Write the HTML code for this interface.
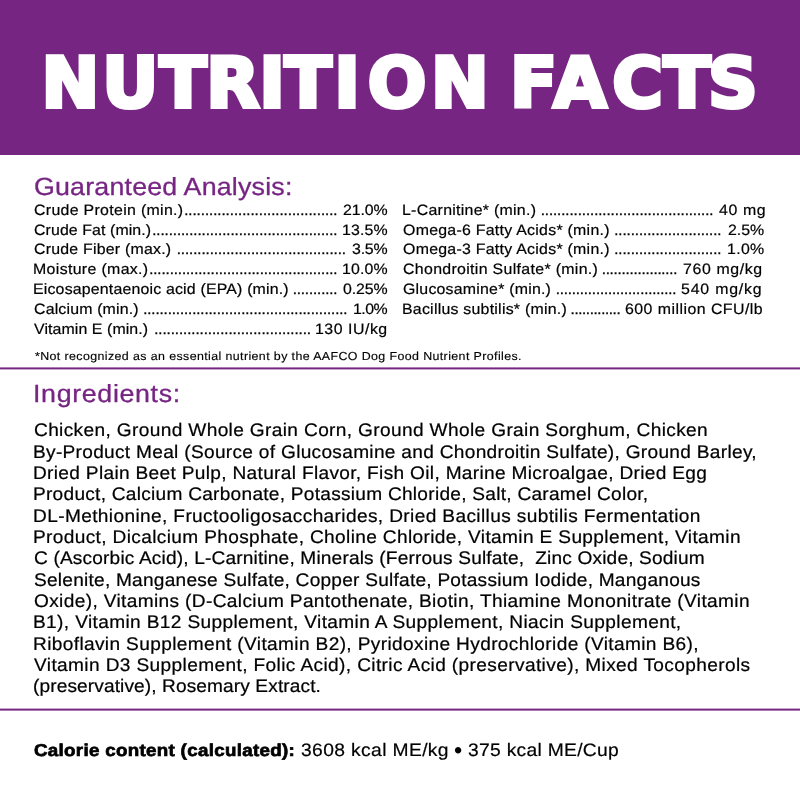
<!DOCTYPE html>
<html lang="en"><head><meta charset="utf-8"><title>Nutrition Facts</title>
<style>
html,body{margin:0;padding:0;background:#fff;}
body{width:800px;height:800px;position:relative;overflow:hidden;font-family:"Liberation Sans",sans-serif;}
.banner{position:absolute;left:0;top:0;width:800px;height:155px;background:#772583;}
.hr{position:absolute;left:0;width:800px;height:3px;}
.t{position:absolute;white-space:pre;line-height:40px;margin:0;transform-origin:0 0;text-rendering:geometricPrecision;}
</style></head><body>
<div class="banner"></div>

<div class="hr" style="top:367px;background:linear-gradient(to bottom,#ad7cb5 0 1px,#772583 1px 2px,#c9a8cd 2px 3px)"></div>
<div class="hr" style="top:708px;background:linear-gradient(to bottom,#c9a8cd 0 1px,#772583 1px 2px,#ad7cb5 2px 3px)"></div>
<svg class="title" width="800" height="154" viewBox="0 0 800 154" style="position:absolute;left:0;top:0"><text x="41.4 102.2 159.5 206.3 259.3 284.5 334.3 367.7 431.1 495.0 509.9 553.2 612.2 663.5 708.0" y="106.6" font-family='"DejaVu Sans", sans-serif' font-weight="700" font-size="69.0" fill="#fff" stroke="#fff" stroke-width="4.0" stroke-linejoin="miter" stroke-miterlimit="8">NUTRITION FACTS</text></svg>
<div class="t" style="left:34.08px;top:168px;font-size:24.8px;letter-spacing:0.183px;color:#772583;-webkit-text-stroke:0.3px #772583;transform:scaleX(1.08);">Guaranteed Analysis:</div>
<div class="t" style="left:32.70px;top:375px;font-size:24.8px;letter-spacing:0.609px;color:#772583;-webkit-text-stroke:0.3px #772583;transform:scaleX(1.08);">Ingredients:</div>
<div class="t" style="left:34.31px;top:191px;font-size:15.0px;letter-spacing:0.295px;-webkit-text-stroke:0.2px #000;transform:scaleX(1.06);">Crude Protein (min.)</div>
<div class="t" style="left:184.18px;top:191px;font-size:15.0px;letter-spacing:-0.024px;-webkit-text-stroke:0.35px #000;">.....................................</div>
<div class="t" style="left:342.61px;top:191px;font-size:15.0px;letter-spacing:-0.103px;-webkit-text-stroke:0.2px #000;transform:scaleX(1.06);">21.0%</div>
<div class="t" style="left:34.31px;top:211px;font-size:15.0px;letter-spacing:0.084px;-webkit-text-stroke:0.2px #000;transform:scaleX(1.06);">Crude Fat (min.)</div>
<div class="t" style="left:152.18px;top:211px;font-size:15.0px;letter-spacing:-0.050px;-webkit-text-stroke:0.35px #000;">.............................................</div>
<div class="t" style="left:341.55px;top:211px;font-size:15.0px;letter-spacing:0.147px;-webkit-text-stroke:0.2px #000;transform:scaleX(1.06);">13.5%</div>
<div class="t" style="left:34.31px;top:230px;font-size:15.0px;letter-spacing:0.204px;-webkit-text-stroke:0.2px #000;transform:scaleX(1.06);">Crude Fiber (max.)</div>
<div class="t" style="left:176.68px;top:230px;font-size:15.0px;letter-spacing:-0.039px;-webkit-text-stroke:0.35px #000;">.........................................</div>
<div class="t" style="left:351.61px;top:230px;font-size:15.0px;letter-spacing:-0.187px;-webkit-text-stroke:0.2px #000;transform:scaleX(1.06);">3.5%</div>
<div class="t" style="left:33.25px;top:250px;font-size:15.0px;letter-spacing:0.318px;-webkit-text-stroke:0.2px #000;transform:scaleX(1.06);">Moisture (max.)</div>
<div class="t" style="left:149.18px;top:250px;font-size:15.0px;letter-spacing:-0.075px;-webkit-text-stroke:0.35px #000;">..............................................</div>
<div class="t" style="left:341.55px;top:250px;font-size:15.0px;letter-spacing:0.147px;-webkit-text-stroke:0.2px #000;transform:scaleX(1.06);">10.0%</div>
<div class="t" style="left:33.25px;top:270px;font-size:15.0px;letter-spacing:0.167px;-webkit-text-stroke:0.2px #000;transform:scaleX(1.06);">Eicosapentaenoic acid (EPA) (min.)</div>
<div class="t" style="left:292.68px;top:270px;font-size:15.0px;letter-spacing:-0.102px;-webkit-text-stroke:0.35px #000;">...........</div>
<div class="t" style="left:342.61px;top:270px;font-size:15.0px;letter-spacing:-0.103px;-webkit-text-stroke:0.2px #000;transform:scaleX(1.06);">0.25%</div>
<div class="t" style="left:34.31px;top:290px;font-size:15.0px;letter-spacing:0.153px;-webkit-text-stroke:0.2px #000;transform:scaleX(1.06);">Calcium (min.)</div>
<div class="t" style="left:143.18px;top:290px;font-size:15.0px;letter-spacing:-0.083px;-webkit-text-stroke:0.35px #000;">..................................................</div>
<div class="t" style="left:352.55px;top:290px;font-size:15.0px;letter-spacing:-0.483px;-webkit-text-stroke:0.2px #000;transform:scaleX(1.06);">1.0%</div>
<div class="t" style="left:34.31px;top:310px;font-size:15.0px;letter-spacing:0.081px;-webkit-text-stroke:0.2px #000;transform:scaleX(1.06);">Vitamin E (min.)</div>
<div class="t" style="left:154.18px;top:310px;font-size:15.0px;letter-spacing:-0.042px;-webkit-text-stroke:0.35px #000;">......................................</div>
<div class="t" style="left:315.05px;top:310px;font-size:15.0px;letter-spacing:0.490px;-webkit-text-stroke:0.2px #000;transform:scaleX(1.06);">130 IU/kg</div>
<div class="t" style="left:401.95px;top:191px;font-size:15.0px;letter-spacing:0.259px;-webkit-text-stroke:0.2px #000;transform:scaleX(1.06);">L-Carnitine* (min.)</div>
<div class="t" style="left:540.67px;top:191px;font-size:15.0px;letter-spacing:-0.054px;-webkit-text-stroke:0.35px #000;">..........................................</div>
<div class="t" style="left:718.61px;top:191px;font-size:15.0px;letter-spacing:0.580px;-webkit-text-stroke:0.2px #000;transform:scaleX(1.06);">40 mg</div>
<div class="t" style="left:403.01px;top:211px;font-size:15.0px;letter-spacing:0.247px;-webkit-text-stroke:0.2px #000;transform:scaleX(1.06);">Omega-6 Fatty Acids* (min.)</div>
<div class="t" style="left:614.17px;top:211px;font-size:15.0px;letter-spacing:-0.041px;-webkit-text-stroke:0.35px #000;">..........................</div>
<div class="t" style="left:727.61px;top:211px;font-size:15.0px;letter-spacing:-0.030px;-webkit-text-stroke:0.2px #000;transform:scaleX(1.06);">2.5%</div>
<div class="t" style="left:403.01px;top:230px;font-size:15.0px;letter-spacing:0.247px;-webkit-text-stroke:0.2px #000;transform:scaleX(1.06);">Omega-3 Fatty Acids* (min.)</div>
<div class="t" style="left:614.17px;top:230px;font-size:15.0px;letter-spacing:-0.041px;-webkit-text-stroke:0.35px #000;">..........................</div>
<div class="t" style="left:726.55px;top:230px;font-size:15.0px;letter-spacing:0.303px;-webkit-text-stroke:0.2px #000;transform:scaleX(1.06);">1.0%</div>
<div class="t" style="left:403.01px;top:250px;font-size:15.0px;letter-spacing:0.305px;-webkit-text-stroke:0.2px #000;transform:scaleX(1.06);">Chondroitin Sulfate* (min.)</div>
<div class="t" style="left:601.67px;top:250px;font-size:15.0px;letter-spacing:-0.187px;-webkit-text-stroke:0.35px #000;">...................</div>
<div class="t" style="left:682.61px;top:250px;font-size:15.0px;letter-spacing:0.579px;-webkit-text-stroke:0.2px #000;transform:scaleX(1.06);">760 mg/kg</div>
<div class="t" style="left:403.01px;top:270px;font-size:15.0px;letter-spacing:0.202px;-webkit-text-stroke:0.2px #000;transform:scaleX(1.06);">Glucosamine* (min.)</div>
<div class="t" style="left:555.67px;top:270px;font-size:15.0px;letter-spacing:-0.145px;-webkit-text-stroke:0.35px #000;">..............................</div>
<div class="t" style="left:681.11px;top:270px;font-size:15.0px;letter-spacing:0.756px;-webkit-text-stroke:0.2px #000;transform:scaleX(1.06);">540 mg/kg</div>
<div class="t" style="left:401.95px;top:290px;font-size:15.0px;letter-spacing:0.224px;-webkit-text-stroke:0.2px #000;transform:scaleX(1.06);">Bacillus subtilis* (min.)</div>
<div class="t" style="left:570.57px;top:290px;font-size:15.0px;letter-spacing:-0.347px;-webkit-text-stroke:0.35px #000;">.............</div>
<div class="t" style="left:625.11px;top:290px;font-size:15.0px;letter-spacing:0.430px;-webkit-text-stroke:0.2px #000;transform:scaleX(1.06);">600 million CFU/lb</div>
<div class="t" style="left:34.58px;top:337px;font-size:11.6px;letter-spacing:0.367px;-webkit-text-stroke:0.15px #000;transform:scaleX(1.07);">*Not recognized as an essential nutrient by the AAFCO Dog Food Nutrient Profiles.</div>
<div class="t" style="left:33.87px;top:410px;font-size:18.2px;letter-spacing:0.338px;-webkit-text-stroke:0.22px #000;transform:scaleX(1.05);">Chicken, Ground Whole Grain Corn, Ground Whole Grain Sorghum, Chicken</div>
<div class="t" style="left:33.37px;top:432px;font-size:18.2px;letter-spacing:0.286px;-webkit-text-stroke:0.22px #000;transform:scaleX(1.05);">By-Product Meal (Source of Glucosamine and Chondroitin Sulfate), Ground Barley,</div>
<div class="t" style="left:33.37px;top:453px;font-size:18.2px;letter-spacing:0.305px;-webkit-text-stroke:0.22px #000;transform:scaleX(1.05);">Dried Plain Beet Pulp, Natural Flavor, Fish Oil, Marine Microalgae, Dried Egg</div>
<div class="t" style="left:33.37px;top:474px;font-size:18.2px;letter-spacing:0.250px;-webkit-text-stroke:0.22px #000;transform:scaleX(1.05);">Product, Calcium Carbonate, Potassium Chloride, Salt, Caramel Color,</div>
<div class="t" style="left:33.37px;top:496px;font-size:18.2px;letter-spacing:0.352px;-webkit-text-stroke:0.22px #000;transform:scaleX(1.05);">DL-Methionine, Fructooligosaccharides, Dried Bacillus subtilis Fermentation</div>
<div class="t" style="left:33.37px;top:517px;font-size:18.2px;letter-spacing:0.335px;-webkit-text-stroke:0.22px #000;transform:scaleX(1.05);">Product, Dicalcium Phosphate, Choline Chloride, Vitamin E Supplement, Vitamin</div>
<div class="t" style="left:33.87px;top:538px;font-size:18.2px;letter-spacing:0.157px;-webkit-text-stroke:0.22px #000;transform:scaleX(1.05);">C (Ascorbic Acid), L-Carnitine, Minerals (Ferrous Sulfate,  Zinc Oxide, Sodium</div>
<div class="t" style="left:33.87px;top:560px;font-size:18.2px;letter-spacing:0.224px;-webkit-text-stroke:0.22px #000;transform:scaleX(1.05);">Selenite, Manganese Sulfate, Copper Sulfate, Potassium Iodide, Manganous</div>
<div class="t" style="left:33.87px;top:581px;font-size:18.2px;letter-spacing:0.339px;-webkit-text-stroke:0.22px #000;transform:scaleX(1.05);">Oxide), Vitamins (D-Calcium Pantothenate, Biotin, Thiamine Mononitrate (Vitamin</div>
<div class="t" style="left:33.37px;top:602px;font-size:18.2px;letter-spacing:0.345px;-webkit-text-stroke:0.22px #000;transform:scaleX(1.05);">B1), Vitamin B12 Supplement, Vitamin A Supplement, Niacin Supplement,</div>
<div class="t" style="left:33.37px;top:624px;font-size:18.2px;letter-spacing:0.343px;-webkit-text-stroke:0.22px #000;transform:scaleX(1.05);">Riboflavin Supplement (Vitamin B2), Pyridoxine Hydrochloride (Vitamin B6),</div>
<div class="t" style="left:34.42px;top:645px;font-size:18.2px;letter-spacing:0.359px;-webkit-text-stroke:0.22px #000;transform:scaleX(1.05);">Vitamin D3 Supplement, Folic Acid), Citric Acid (preservative), Mixed Tocopherols</div>
<div class="t" style="left:32.82px;top:666px;font-size:18.2px;letter-spacing:0.103px;-webkit-text-stroke:0.22px #000;transform:scaleX(1.05);">(preservative), Rosemary Extract.</div>
<div class="t" style="left:33.68px;top:730px;font-size:17.2px;letter-spacing:0.289px;font-weight:700;-webkit-text-stroke:0.7px #000;transform:scaleX(1.09);">Calorie content (calculated):</div>
<div class="t" style="left:301.01px;top:730px;font-size:18.0px;letter-spacing:0.346px;-webkit-text-stroke:0.2px #000;transform:scaleX(1.07);">3608 kcal ME/kg</div>
<div class="t" style="left:454.00px;top:730px;font-size:23.5px;letter-spacing:0.000px;">•</div>
<div class="t" style="left:467.91px;top:730px;font-size:18.0px;letter-spacing:0.276px;-webkit-text-stroke:0.2px #000;transform:scaleX(1.07);">375 kcal ME/Cup</div>
</body></html>
